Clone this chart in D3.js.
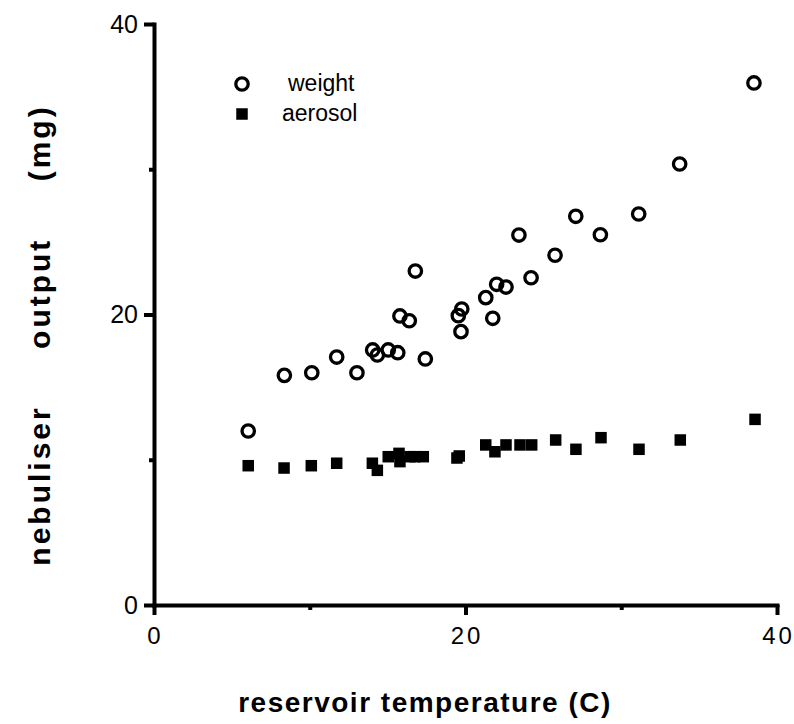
<!DOCTYPE html>
<html>
<head>
<meta charset="utf-8">
<script src="https://cdn.jsdelivr.net/npm/d3@7"></script>
<style>
  body { margin: 0; background: #fff; }
  svg { display: block; font-family: "Liberation Sans", Arial, sans-serif; }
</style>
</head>
<body>
<svg id="chart" width="794" height="724"></svg>
<script>
// reservoir temperature (C) vs nebuliser output (mg)
const weightX = [6.05, 8.37, 10.13, 11.73, 13.03, 14.04, 14.34, 15.04, 15.65, 15.79, 16.39, 16.78, 17.42,
    19.54, 19.76, 19.71, 21.3, 21.75, 22.0, 22.6, 23.43, 24.21, 25.75, 27.08, 28.66, 31.12, 33.75, 38.52];
const weightY = [11.98, 15.81, 15.99, 17.07, 15.99, 17.56, 17.21, 17.56, 17.37, 19.9, 19.57, 22.99, 16.94,
    19.92, 20.38, 18.82, 21.16, 19.74, 22.08, 21.89, 25.47, 22.53, 24.08, 26.76, 25.49, 26.92, 30.36, 35.94];

const aerosolX = [6.05, 8.35, 10.1, 11.73, 14.02, 14.34, 15.04, 15.73, 15.79, 16.44, 16.75, 17.29,
    19.45, 19.6, 21.3, 21.89, 22.6, 23.5, 24.25, 25.79, 27.09, 28.7, 31.14, 33.79, 38.59];
const aerosolY = [9.59, 9.43, 9.59, 9.76, 9.76, 9.27, 10.21, 10.44, 9.87, 10.21, 10.21, 10.21,
    10.12, 10.26, 11.02, 10.55, 11.02, 11.02, 11.02, 11.36, 10.72, 11.52, 10.72, 11.36, 12.78];

const majorTicks = [0, 20, 40];
const minorTicks = [10, 30];

const svg = d3.select("#chart");

const x = d3.scaleLinear().domain([0, 40]).range([154, 777]);
const y = d3.scaleLinear().domain([0, 40]).range([605, 24]);

// axes: thick lines, outward ticks, labels only on major ticks
const xAxis = svg.append("g").attr("transform", `translate(0,${y(0)})`);
xAxis.call(d3.axisBottom(x).tickValues(majorTicks).tickSize(10).tickSizeOuter(0).tickPadding(12));
xAxis.append("g").call(d3.axisBottom(x).tickValues(minorTicks).tickSize(5).tickFormat(""))
    .select(".domain").remove();

const yAxis = svg.append("g").attr("transform", `translate(${x(0)},0)`);
yAxis.call(d3.axisLeft(y).tickValues(majorTicks).tickSize(10).tickSizeOuter(0).tickPadding(6));
yAxis.append("g").call(d3.axisLeft(y).tickValues(minorTicks).tickSize(5).tickFormat(""))
    .select(".domain").remove();

svg.selectAll(".domain").style("stroke", "#000").style("stroke-width", "4px")
    .style("stroke-linecap", "square");
svg.selectAll(".tick line").style("stroke", "#000").style("stroke-width", "4px");
xAxis.selectAll(".tick text")
    .attr("font-size", 24).attr("letter-spacing", 3).attr("fill", "#000").attr("dx", 1)
    .style("font-family", "'Liberation Sans', Arial, sans-serif");
yAxis.selectAll(".tick text")
    .attr("font-size", 25).attr("fill", "#000")
    .style("font-family", "'Liberation Sans', Arial, sans-serif");

// aerosol: filled squares
const sq = 11.5;
svg.append("g").selectAll("rect")
    .data(aerosolX.map((d, i) => [d, aerosolY[i]]))
    .enter()
    .append("rect")
    .attr("x", d => x(d[0]) - sq / 2)
    .attr("y", d => y(d[1]) - sq / 2)
    .attr("width", sq)
    .attr("height", sq)
    .attr("fill", "#000");

// weight: open circles
svg.append("g").selectAll("circle")
    .data(weightX.map((d, i) => [d, weightY[i]]))
    .enter()
    .append("circle")
    .attr("cx", d => x(d[0]))
    .attr("cy", d => y(d[1]))
    .attr("r", 6.2)
    .attr("fill", "none")
    .attr("stroke", "#000")
    .attr("stroke-width", 3.3);

// legend
const legend = svg.append("g");
legend.append("circle").attr("cx", 242).attr("cy", 84).attr("r", 6.2)
    .attr("fill", "none").attr("stroke", "#000").attr("stroke-width", 3.3);
legend.append("text").attr("x", 288).attr("y", 91).attr("font-size", 23).text("weight");
legend.append("rect").attr("x", 242 - sq / 2).attr("y", 114 - sq / 2)
    .attr("width", sq).attr("height", sq).attr("fill", "#000");
legend.append("text").attr("x", 282).attr("y", 121).attr("font-size", 23).text("aerosol");

// axis titles
svg.append("text")
    .attr("x", 425).attr("y", 712)
    .attr("text-anchor", "middle")
    .attr("font-size", 28).attr("font-weight", "bold").attr("letter-spacing", 1.5)
    .text("reservoir temperature (C)");

svg.append("text")
    .attr("transform", "translate(50,335) rotate(-90)")
    .attr("text-anchor", "middle")
    .attr("font-size", 30).attr("font-weight", "bold").attr("letter-spacing", 3)
    .attr("word-spacing", 45)
    .text("nebuliser output (mg)");
</script>
</body>
</html>
